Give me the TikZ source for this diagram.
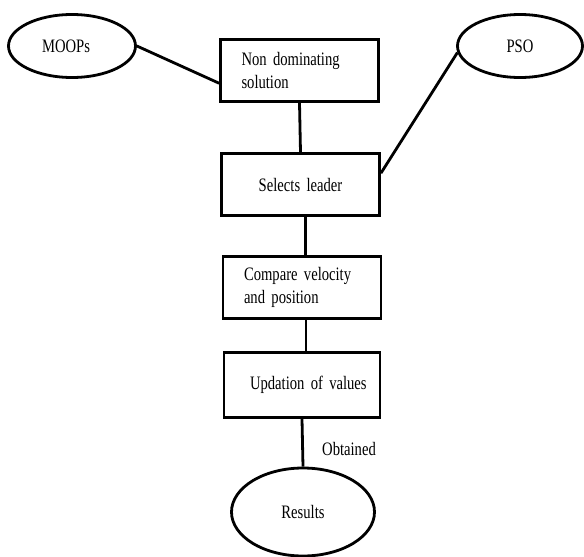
\documentclass[tikz,border=0pt]{standalone}
\usepackage{fontspec}
\setmainfont{Liberation Serif}[FakeStretch=0.77]
\usetikzlibrary{shapes.geometric}
\newcommand\diagfont{\fontsize{19}{23}\selectfont\spaceskip=3.6pt plus 1pt minus 1pt\relax}

\begin{document}
\begin{tikzpicture}[
    x=1pt, y=-1pt,
    every node/.style={font=\diagfont},
    procbox/.style={rectangle, draw, line width=2.8pt, minimum height=62pt, text width=116pt, inner xsep=21pt, align=left},
    oval/.style={ellipse, draw, line width=2.8pt, inner sep=0pt},
    link/.style={line width=2.8pt}
]

\useasboundingbox (0,0) rectangle (584,557);

\node (moops) [oval, minimum width=127pt, minimum height=63pt] at (72,46) {MOOPs\hspace*{12pt}};
\node (pso) [oval, minimum width=125pt, minimum height=63pt] at (520,46) {PSO};
\node (nondom) [procbox] at (299.5,70.5) {Non dominating\\solution};
\node (leader) [procbox, align=center] at (300.5,184.5) {Selects leader};
\node (compare) [procbox] at (302,287.5) {Compare velocity\\and position};
\node (update) [procbox, text width=130pt, inner xsep=13pt, minimum height=65pt] at (302,385) {\hspace*{13pt}Updation of values};
\node (results) [oval, minimum width=143pt, minimum height=88pt] at (303,512) {Results};
\node (obt) at (349,449) {Obtained};

\draw[link] (moops.east) -- (nondom.189);
\draw[link] (pso.186) -- (leader.8);
\draw[link] (nondom.south) -- (leader.north);
\draw[link] ([xshift=5pt]leader.south) -- ([xshift=5pt]leader.south |- compare.north);
\draw[link] ([xshift=4pt]compare.south) -- ([xshift=4pt]compare.south |- update.north);
\draw[link] (update.south) -- (results.north);

\end{tikzpicture}
\end{document}
